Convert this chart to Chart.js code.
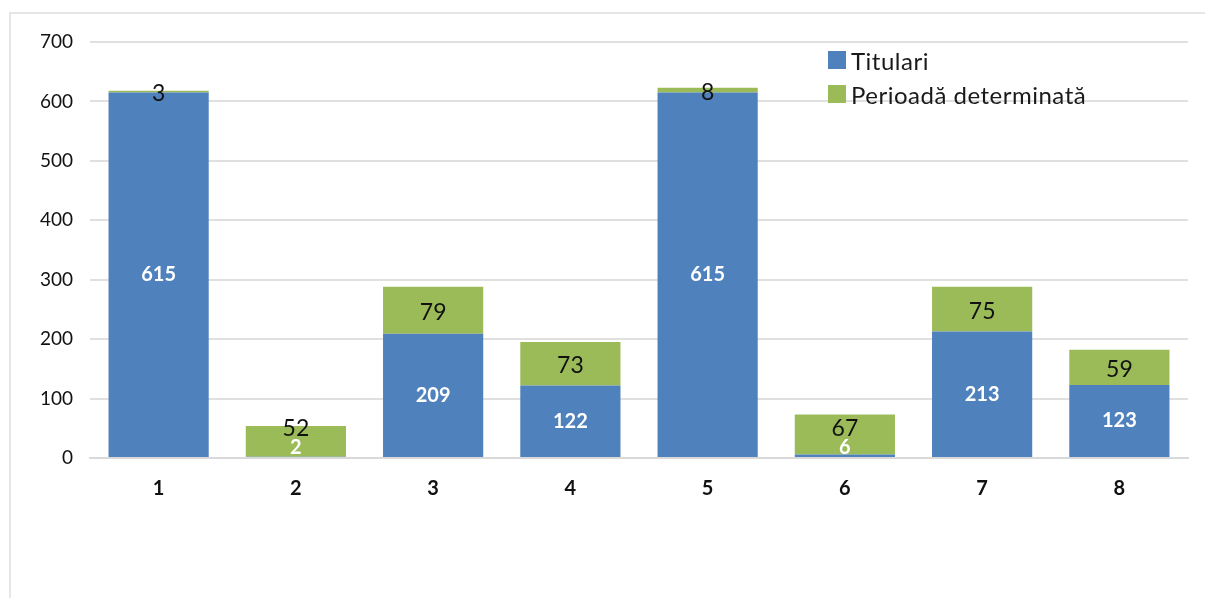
<!DOCTYPE html>
<html>
<head>
<meta charset="utf-8">
<script src="https://cdn.jsdelivr.net/npm/chart.js@4.4.0/dist/chart.umd.min.js"></script>
<style>
  html, body { margin: 0; padding: 0; background: #fff; }
  #wrap { position: relative; width: 1205px; height: 598px; }
  #frame { position: absolute; left: 9px; top: 12px; right: 0; bottom: 0;
           border-left: 2px solid #e6e6e6; border-top: 2px solid #e6e6e6; }
  #legend { position: absolute; left: 828px; top: 43px; font-family: Lato, "Liberation Sans", sans-serif;
            font-size: 24px; letter-spacing: 0.5px; color: #1a1a1a; }
  #legend div { display: flex; align-items: center; height: 34px; }
  #legend span.box { width: 18px; height: 18px; margin-right: 5px; display: inline-block; }
</style>
</head>
<body>
<div id="wrap">
  <div id="frame"></div>
  <canvas id="barChart" width="1205" height="598"></canvas>
  <div id="legend"></div>
</div>
<script>
// Chart data
const categories = ["1", "2", "3", "4", "5", "6", "7", "8"];
const titulari = [615, 2, 209, 122, 615, 6, 213, 123];
const determinata = [3, 52, 79, 73, 8, 67, 75, 59];
const seriesNames = ["Titulari", "Perioadă determinată"];
const seriesColors = ["#4F81BD", "#9BBB59"];

const FONT = "Lato, 'Liberation Sans', sans-serif";

// Build the legend as html
const legend = document.getElementById("legend");
seriesNames.forEach((name, i) => {
  const row = document.createElement("div");
  row.innerHTML = '<span class="box" style="background:' + seriesColors[i] + '"></span>' + name;
  legend.appendChild(row);
});

// Draws the value labels in the middle of each segment
const segmentLabels = {
  id: "segmentLabels",
  afterDatasetsDraw(chart) {
    const ctx = chart.ctx;
    const base = chart.scales.y.getPixelForValue(0);
    const blueMeta = chart.getDatasetMeta(0);
    const greenMeta = chart.getDatasetMeta(1);
    ctx.save();
    ctx.textAlign = "center";
    ctx.textBaseline = "middle";
    blueMeta.data.forEach((bar, i) => {
      let yBlue = (bar.y + bar.base) / 2;
      yBlue = Math.min(yBlue, base - 10); // keep inside the plot
      ctx.font = "bold 20px " + FONT;
      ctx.fillStyle = "#ffffff";
      ctx.fillText(String(titulari[i]), bar.x, yBlue);

      const g = greenMeta.data[i];
      let yGreen = (g.y + g.base) / 2;
      yGreen = Math.min(yGreen, yBlue - 21); // avoid overlap with blue label
      ctx.font = "23px " + FONT;
      ctx.fillStyle = "#111111";
      ctx.fillText(String(determinata[i]), g.x, yGreen + 2);
    });
    ctx.restore();
  },
};

const ctx = document.getElementById("barChart").getContext("2d");
new Chart(ctx, {
  type: "bar",
  data: {
    labels: categories,
    datasets: [
      { label: seriesNames[0], data: titulari, backgroundColor: seriesColors[0] },
      { label: seriesNames[1], data: determinata, backgroundColor: seriesColors[1] },
    ],
  },
  options: {
    responsive: false,
    animation: false,
    devicePixelRatio: 1,
    layout: { padding: { top: 42, right: 17, left: 0, bottom: 0 } },
    categoryPercentage: 1,
    barPercentage: 0.73,
    plugins: { legend: { display: false }, tooltip: { enabled: false } },
    scales: {
      x: {
        stacked: true,
        grid: { display: false, drawTicks: false },
        border: { color: "#d9d9d9", width: 2 },
        ticks: { color: "#111", font: { family: FONT, size: 20, weight: "bold" }, padding: 19 },
        afterFit: (scale) => { scale.height = 140; },
      },
      y: {
        stacked: true,
        min: 0,
        max: 700,
        ticks: { stepSize: 100, color: "#111", font: { family: FONT, size: 19 }, padding: 17 },
        grid: { color: "#e0e0e0", lineWidth: 2, drawTicks: false },
        border: { display: false },
        afterFit: (scale) => { scale.width = 90; },
      },
    },
  },
  plugins: [segmentLabels],
});
</script>
</body>
</html>
